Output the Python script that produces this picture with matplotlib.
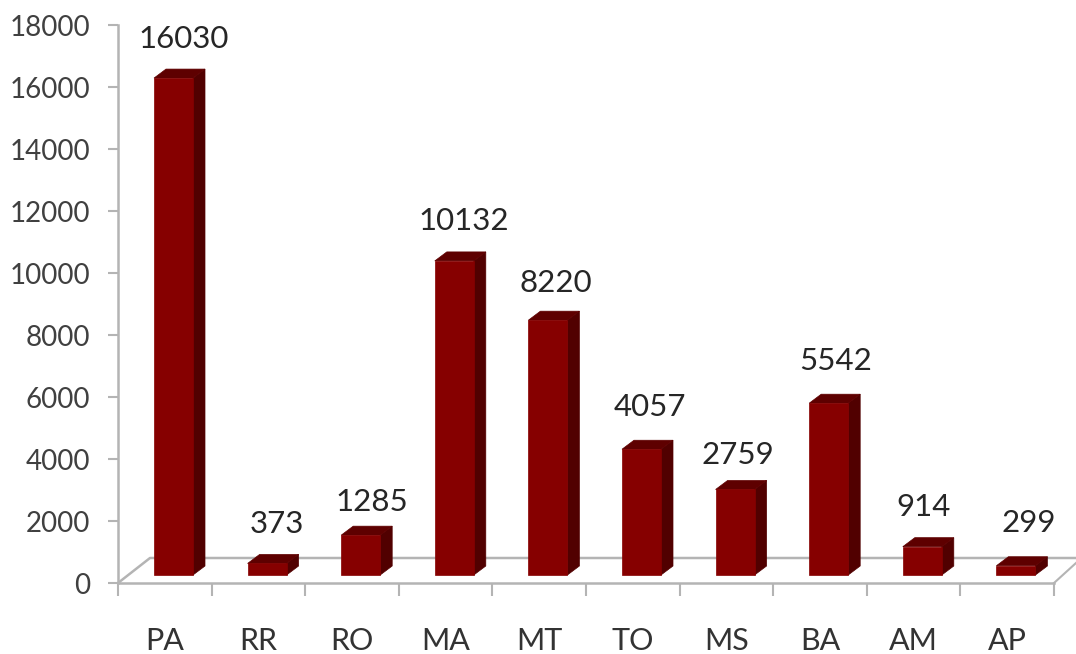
import matplotlib
matplotlib.use("Agg")
import matplotlib.pyplot as plt
import numpy as np

categories = ["PA", "RR", "RO", "MA", "MT", "TO", "MS", "BA", "AM", "AP"]
values = [16030, 373, 1285, 10132, 8220, 4057, 2759, 5542, 914, 299]
y_ticks = list(range(0, 18001, 2000))

# hand-placed data labels in the reference: nudges in pixels (dy is downward)
label_dx = [0, 0, 1, -1, -2, -2, -7, -3, -9, 3]
label_dy = [2, 2, 8, 1, 4, -1, 7, -1, 1, -2]

W, H = 1076, 654
plt.rcParams["font.family"] = ["Lato", "DejaVu Sans"]
fig = plt.figure(figsize=(W / 100, H / 100), dpi=100)
L, R, T, B = 118, 1054, 25, 583
ax = fig.add_axes([L / W, 1 - B / H, (R - L) / W, (B - T) / H])
ax.set_xlim(0, len(categories))
ax.set_ylim(0, 18000)

px_x = (R - L) / len(categories)
px_y = (B - T) / 18000
ddx, ddy = 12 / px_x, 9 / px_y      # bar depth in data units
base = 8 / px_y                     # bars float above the axis in the 3D floor
width = 39 / px_x
shift = 8.7 / px_x

GREY = "#b4b4b4"
# floor
fx = [0, 32 / px_x, (W - L) / px_x]
fy = [0, 25 / px_y, 25 / px_y]
ax.plot(fx, fy, color=GREY, lw=1.8, clip_on=False, zorder=1)
ax.plot([len(categories), (W - L) / px_x], [0, 20 / px_y], color=GREY, lw=1.5, clip_on=False, zorder=1)

for i, (cat, v) in enumerate(zip(categories, values)):
    x0 = i + 0.5 + shift - width / 2
    x1 = x0 + width
    y0, y1 = base, base + v
    ax.fill([x1, x1 + ddx, x1 + ddx, x1], [y0, y0 + ddy, y1 + ddy, y1], color="#510000", lw=0.5, zorder=3)
    ax.fill([x0, x0 + ddx, x1 + ddx, x1], [y1, y1 + ddy, y1 + ddy, y1], color="#5e0000", lw=0.5, zorder=3)
    ax.fill([x0, x1, x1, x0], [y0, y0, y1, y1], color="#860000", lw=0.5, zorder=4)
    ax.text(i + 0.5 + shift + (10 + label_dx[i]) / px_x, y1 + ddy + (32 - label_dy[i]) / px_y, str(v),
            ha="center", va="center", fontsize=22.5, color="#262626", zorder=5)

for s in ("top", "right"):
    ax.spines[s].set_visible(False)
for s in ("left", "bottom"):
    ax.spines[s].set_color(GREY)
    ax.spines[s].set_linewidth(1.8)
ax.patch.set_alpha(0)

ax.set_yticks(y_ticks)
ax.tick_params(axis="y", length=7, width=1.5, color=GREY, labelsize=20, labelcolor="#404040", pad=13)
ax.set_xticks(np.arange(len(categories) + 1))
ax.set_xticklabels([])
ax.tick_params(axis="x", which="major", length=9, width=1.5, color=GREY)
ax.set_xticks(np.arange(len(categories)) + 0.5, minor=True)
ax.set_xticklabels(categories, minor=True)
ax.tick_params(axis="x", which="minor", length=0, labelsize=22, labelcolor="#333333", pad=32)

fig.savefig("out.png", dpi=100, facecolor="white")
